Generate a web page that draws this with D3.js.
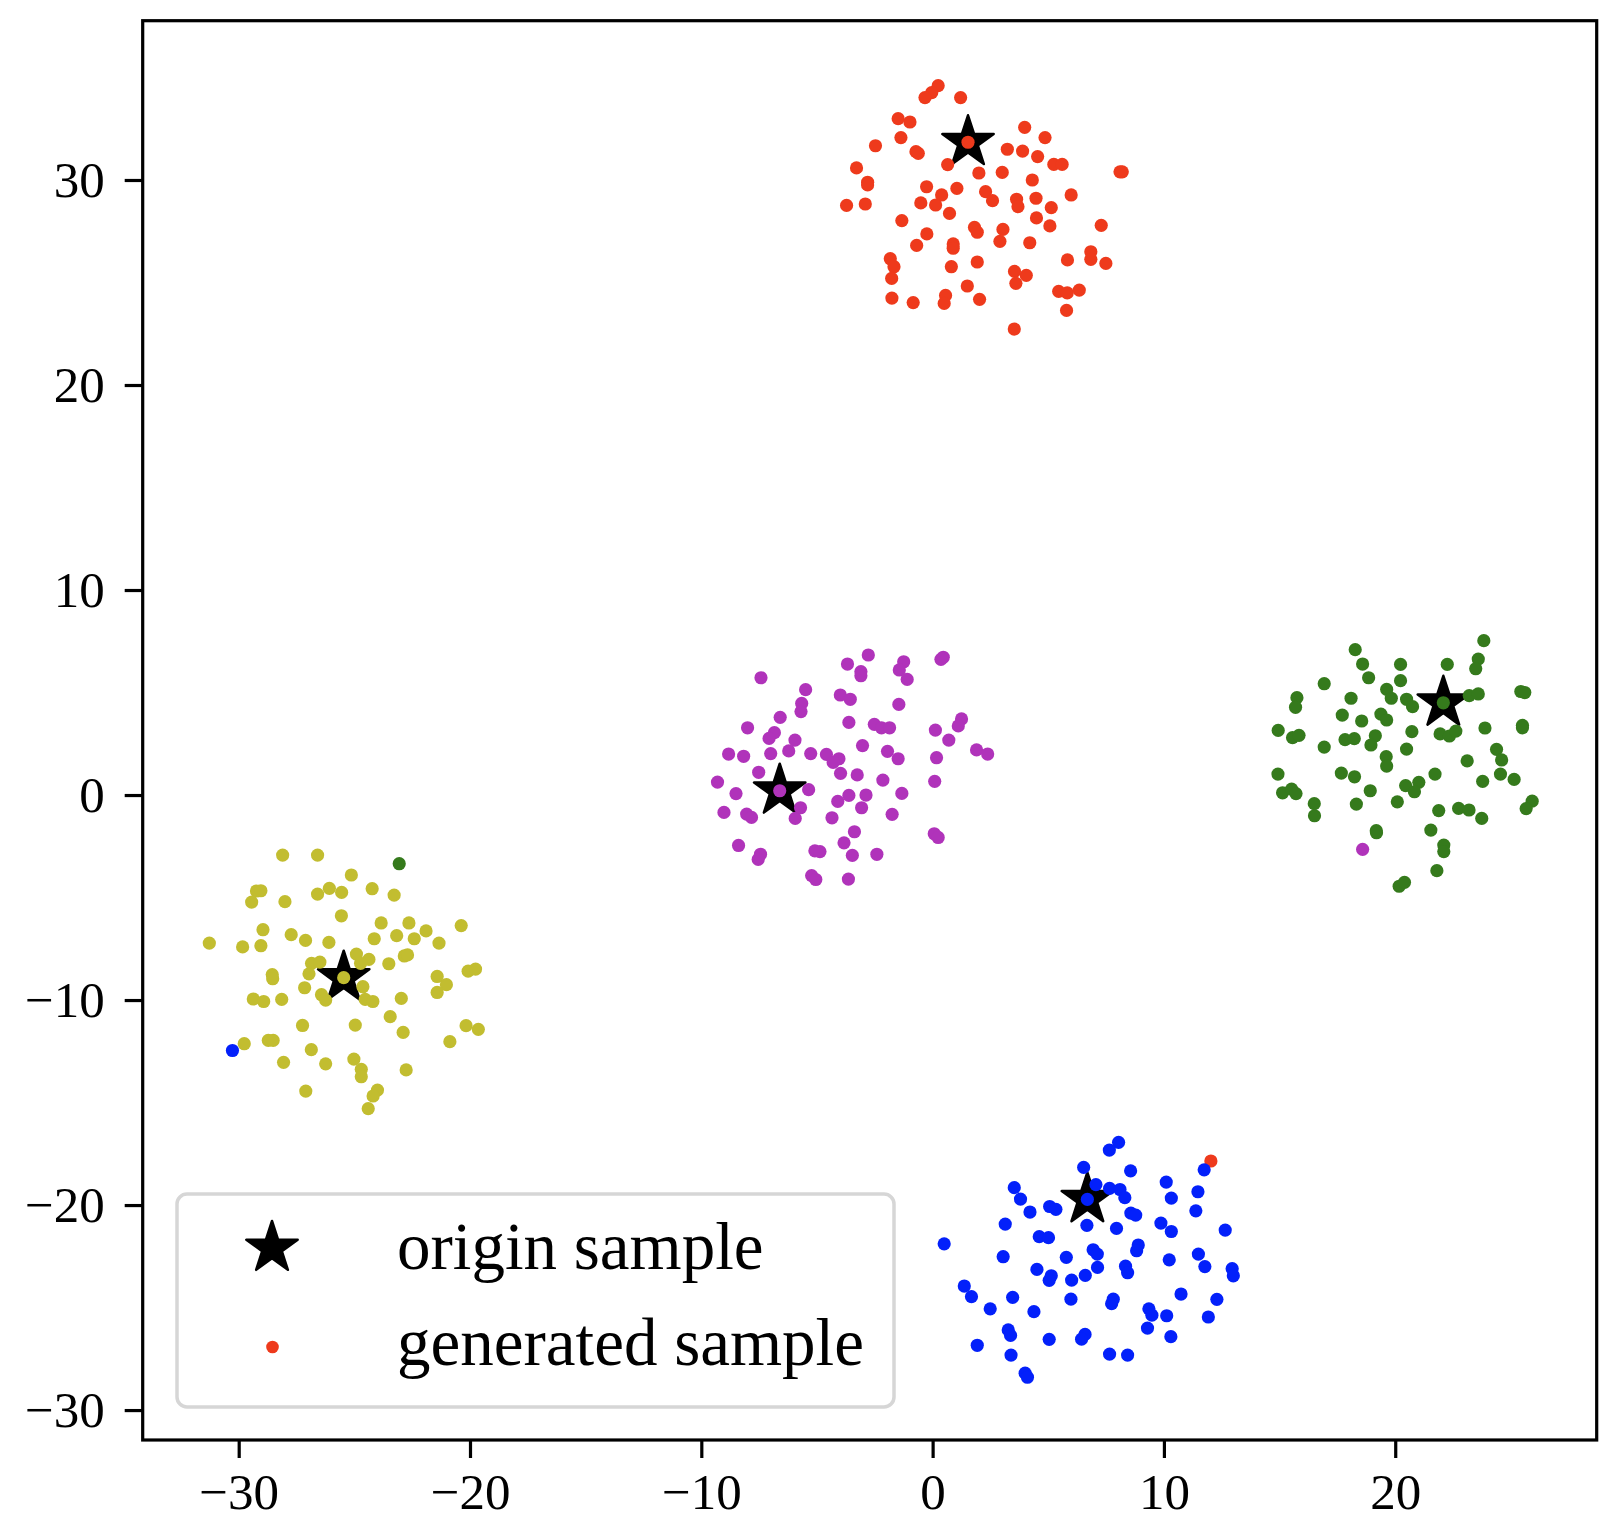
<!DOCTYPE html>
<html>
<head>
<meta charset="utf-8">
<script src="https://cdn.jsdelivr.net/npm/d3@7"></script>
<style>
  body { margin: 0; background: #fff; }
  text { font-family: "Liberation Serif", "Times New Roman", serif; }
</style>
</head>
<body>
<script>

// tick values
var xTicks = [-30, -20, -10, 0, 10, 20];
var yTicks = [-30, -20, -10, 0, 10, 20, 30];

// origin samples (one per class)
var originPts = [[1.53, 31.84], [-6.61, 0.21], [22.08, 4.50], [-25.46, -8.91], [6.69, -19.72]];

// generated samples, one array per class
var redPts = [
  [0.24,34.60],[-0.04,34.26],[-0.33,34.02],[1.21,34.02],[-1.49,32.99],[-0.98,32.83],[3.98,32.57],[4.86,32.07],
  [-1.37,32.07],[-2.47,31.67],[1.53,31.84],[-0.72,31.38],[-0.62,31.30],[3.23,31.50],[3.89,31.41],[4.54,31.14],
  [-3.29,30.59],[0.65,30.75],[2.00,30.34],[3.01,30.37],[5.24,30.76],[5.60,30.76],[-2.81,29.89],[-2.81,29.76],
  [-0.26,29.67],[1.05,29.59],[4.31,30.00],[0.39,29.27],[2.29,29.43],[2.59,28.99],[5.99,29.27],[-3.72,28.76],
  [-2.91,28.83],[-0.51,28.88],[0.13,28.78],[0.73,28.37],[3.63,29.06],[3.69,28.70],[4.47,29.11],[5.13,28.65],
  [-1.33,28.02],[4.49,28.15],[5.07,27.76],[7.29,27.79],[1.81,27.69],[1.93,27.45],[3.04,27.59],[2.91,27.01],
  [-0.25,27.37],[-0.69,26.81],[0.89,26.88],[0.89,26.67],[4.20,26.94],[-1.83,26.16],[-1.67,25.77],[-1.77,25.20],
  [0.81,25.77],[1.93,26.00],[3.54,25.54],[4.05,25.35],[3.60,24.96],[5.83,26.10],[6.84,26.50],[6.84,26.13],
  [7.49,25.93],[1.50,24.83],[-1.76,24.24],[-0.84,24.02],[0.56,24.37],[0.50,23.98],[2.03,24.18],[5.45,24.57],
  [5.82,24.49],[6.34,24.63],[5.79,23.64],[3.53,22.73],[8.10,30.40],[8.20,30.40],[12.03,-17.85]
];
var purplePts = [
  [-2.78,6.83],[-3.68,6.39],[-3.10,6.02],[-3.10,5.82],[-1.25,6.50],[-1.44,6.10],[-1.10,5.64],[0.46,6.72],
  [0.36,6.62],[-7.42,5.72],[-5.49,5.14],[-5.66,4.47],[-5.69,4.07],[-3.99,4.88],[-3.56,4.67],[-1.46,4.42],
  [-6.59,3.79],[-8.00,3.28],[-6.84,3.04],[-7.07,2.76],[-5.95,2.68],[-3.62,3.54],[-2.52,3.45],[-2.21,3.28],
  [-1.86,3.28],[0.12,3.17],[1.25,3.71],[1.11,3.37],[0.70,2.68],[1.90,2.20],[2.38,2.00],[-8.82,2.00],
  [-8.17,1.89],[-7.00,2.02],[-6.22,2.15],[-5.27,2.02],[-4.59,1.98],[-4.05,1.77],[-4.30,1.59],[-3.03,2.41],
  [-1.95,2.13],[-1.49,1.77],[0.17,1.82],[-7.52,1.11],[-3.98,1.06],[-3.26,0.98],[-2.15,0.73],[0.09,0.67],
  [-9.30,0.63],[-6.61,0.21],[-5.36,0.26],[-8.50,0.07],[-4.10,-0.31],[-3.62,-0.02],[-2.88,0.00],[-1.33,0.08],
  [-5.71,-0.62],[-3.07,-0.62],[-9.02,-0.85],[-8.04,-0.93],[-7.83,-1.09],[-5.94,-1.14],[-4.35,-1.11],[-1.75,-0.94],
  [-3.38,-1.79],[-3.83,-2.33],[0.07,-1.89],[0.24,-2.07],[-8.39,-2.46],[-7.44,-2.89],[-7.54,-3.14],[-5.09,-2.72],
  [-4.87,-2.76],[-3.47,-2.94],[-2.41,-2.89],[-5.23,-3.93],[-5.05,-4.12],[-3.64,-4.10],[18.59,-2.65]
];
var greenPts = [
  [23.83,7.53],[18.27,7.09],[23.59,6.63],[23.48,6.16],[18.59,6.39],[20.23,6.37],[22.25,6.37],[18.85,5.72],
  [20.23,5.58],[16.93,5.43],[15.75,4.75],[15.69,4.28],[19.63,5.15],[19.83,4.72],[18.09,4.72],[20.49,4.67],
  [20.75,4.31],[22.08,4.50],[23.20,4.85],[23.59,4.93],[25.43,5.05],[25.60,5.00],[17.71,3.90],[18.55,3.61],
  [19.38,3.95],[19.63,3.66],[14.94,3.15],[15.56,2.80],[15.84,2.91],[17.83,2.70],[18.23,2.75],[19.14,2.89],
  [18.95,2.44],[20.72,3.09],[21.94,2.98],[22.34,2.88],[22.62,3.12],[23.88,3.27],[25.50,3.40],[25.50,3.28],
  [16.93,2.34],[20.49,2.24],[19.61,1.87],[19.63,1.41],[24.38,2.23],[24.60,1.71],[23.11,1.67],[14.93,1.02],
  [17.67,1.07],[18.24,0.89],[21.72,1.02],[24.55,1.02],[25.14,0.76],[21.02,0.62],[20.45,0.46],[20.83,0.16],
  [23.78,0.67],[15.13,0.11],[15.52,0.29],[15.71,0.07],[18.92,0.21],[16.50,-0.42],[16.51,-1.01],[18.32,-0.44],
  [20.09,-0.33],[21.88,-0.76],[22.74,-0.65],[23.19,-0.73],[23.74,-1.14],[25.92,-0.30],[25.66,-0.66],[19.18,-1.74],
  [19.19,-1.84],[21.54,-1.71],[22.10,-2.44],[22.10,-2.76],[21.80,-3.69],[20.17,-4.45],[20.40,-4.26],[-23.06,-3.35]
];
var yellowPts = [
  [-28.10,-2.93],[-26.59,-2.93],[-25.13,-3.90],[-29.23,-4.68],[-29.04,-4.67],[-29.44,-5.22],[-28.00,-5.20],[-26.59,-4.83],
  [-26.08,-4.55],[-25.55,-4.75],[-24.23,-4.57],[-23.28,-4.88],[-25.56,-5.89],[-28.95,-6.57],[-27.73,-6.81],[-23.84,-6.24],
  [-22.64,-6.24],[-20.38,-6.37],[-21.90,-6.63],[-31.27,-7.22],[-29.83,-7.41],[-29.04,-7.35],[-27.11,-7.09],[-26.10,-7.19],
  [-24.14,-7.01],[-23.17,-6.86],[-22.41,-7.01],[-21.34,-7.22],[-24.91,-7.76],[-24.37,-8.02],[-24.73,-8.21],[-26.85,-8.21],
  [-26.49,-8.15],[-26.96,-8.72],[-22.84,-7.85],[-22.70,-7.80],[-23.51,-8.23],[-25.46,-8.91],[-28.55,-8.76],[-28.53,-8.96],
  [-27.15,-9.40],[-26.42,-9.74],[-26.24,-10.00],[-24.63,-9.35],[-24.53,-9.97],[-24.20,-10.07],[-22.97,-9.92],[-21.42,-8.85],
  [-21.02,-9.25],[-21.42,-9.63],[-20.08,-8.59],[-19.76,-8.49],[-29.37,-9.95],[-28.92,-10.07],[-28.14,-9.97],[-23.45,-10.81],
  [-27.24,-11.24],[-24.96,-11.22],[-22.89,-11.58],[-20.17,-11.25],[-19.64,-11.43],[-20.87,-12.03],[-29.76,-12.13],[-28.72,-11.97],
  [-28.51,-11.97],[-26.86,-12.42],[-28.06,-13.04],[-26.24,-13.11],[-25.02,-12.88],[-24.70,-13.38],[-24.70,-13.74],[-22.76,-13.41],
  [-27.10,-14.44],[-24.00,-14.39],[-24.19,-14.68],[-24.40,-15.30]
];
var bluePts = [
  [8.04,-16.94],[7.64,-17.32],[6.53,-18.16],[8.56,-18.33],[11.74,-18.28],[6.69,-19.72],[7.06,-19.00],[7.65,-19.19],
  [8.10,-19.24],[8.31,-19.64],[10.10,-18.88],[10.32,-19.66],[11.47,-19.35],[11.38,-20.28],[3.53,-19.15],[3.80,-19.71],
  [4.21,-20.34],[5.06,-20.07],[5.33,-20.21],[8.57,-20.39],[8.78,-20.49],[6.67,-20.99],[7.95,-21.14],[9.87,-20.88],
  [10.32,-21.29],[12.65,-21.22],[3.14,-20.93],[0.50,-21.89],[4.61,-21.54],[5.01,-21.59],[8.89,-21.95],[8.82,-22.23],
  [6.94,-22.18],[7.12,-22.39],[5.78,-22.55],[3.05,-22.52],[10.23,-22.67],[11.49,-22.39],[11.77,-23.00],[4.51,-23.14],
  [7.13,-23.04],[8.34,-22.98],[8.43,-23.30],[5.13,-23.45],[5.04,-23.67],[6.01,-23.66],[6.60,-23.43],[1.37,-23.95],
  [1.68,-24.47],[3.46,-24.50],[2.49,-25.06],[4.38,-25.20],[5.98,-24.59],[7.81,-24.59],[7.74,-24.81],[10.74,-24.34],
  [12.29,-24.60],[9.35,-25.06],[9.48,-25.37],[10.12,-25.40],[9.29,-26.00],[11.92,-25.46],[3.27,-26.09],[3.37,-26.36],
  [5.04,-26.55],[6.59,-26.31],[6.44,-26.54],[10.30,-26.42],[1.93,-26.84],[3.39,-27.32],[7.65,-27.27],[8.43,-27.32],
  [4.00,-28.20],[4.10,-28.40],[12.95,-23.10],[13.00,-23.45],[-30.27,-12.46]
];

var classColors = ["#ee3a1c", "#b033ba", "#357a1c", "#c2bd30", "#0320fa"];
var legendLabels = ["origin sample", "generated sample"];

var W = 1604, H = 1520;
var margin = { left: 142.7, top: 20.7, right: 7.3, bottom: 80 };
var plotW = W - margin.left - margin.right, plotH = 1440 - margin.top;

var svg = d3.select("body").append("svg").attr("width", W).attr("height", H);
svg.append("rect").attr("width", W).attr("height", H).attr("fill", "#fff");

var x = d3.scaleLinear().domain([-34.15, 28.71]).range([0, plotW]);
var y = d3.scaleLinear().domain([-31.46, 37.77]).range([plotH, 0]);

var g = svg.append("g").attr("transform", "translate(" + margin.left + "," + margin.top + ")");

// star path like matplotlib's '*' marker
function starPath(R) {
    var r = R * 0.381966, pts = [];
    for (var i = 0; i < 10; i++) {
        var a = -Math.PI / 2 + i * Math.PI / 5;
        var rr = (i % 2 === 0) ? R : r;
        pts.push([rr * Math.cos(a), rr * Math.sin(a)]);
    }
    return "M" + pts.map(function (p) { return p[0].toFixed(2) + "," + p[1].toFixed(2); }).join("L") + "Z";
}

// stars first, generated points on top
g.selectAll("path.star")
    .data(originPts)
    .enter().append("path")
    .attr("class", "star")
    .attr("d", starPath(27))
    .attr("transform", function (d) { return "translate(" + x(d[0]) + "," + y(d[1]) + ")"; })
    .attr("fill", "#000")
    .attr("stroke", "#000")
    .attr("stroke-width", 2.5)
    .attr("stroke-linejoin", "round");

var groups = [redPts, purplePts, greenPts, yellowPts, bluePts];
groups.forEach(function (pts, i) {
    g.selectAll("circle.c" + i)
        .data(pts)
        .enter().append("circle")
        .attr("class", "c" + i)
        .attr("cx", function (d) { return x(d[0]); })
        .attr("cy", function (d) { return y(d[1]); })
        .attr("r", 6.6)
        .attr("fill", classColors[i]);
});

// axes
var fmt = d3.format("d");
var xAxis = g.append("g")
    .attr("transform", "translate(0," + plotH + ")")
    .call(d3.axisBottom(x).tickValues(xTicks).tickFormat(fmt).tickSize(18).tickPadding(15));
var yAxis = g.append("g")
    .call(d3.axisLeft(y).tickValues(yTicks).tickFormat(fmt).tickSize(18).tickPadding(20));

[xAxis, yAxis].forEach(function (ax) {
    ax.select(".domain").remove();
    ax.selectAll(".tick line").attr("stroke", "#000").attr("stroke-width", 3.2);
    ax.selectAll(".tick text")
        .attr("fill", "#000")
        .style("font-size", "51px")
        .style("font-family", "'Liberation Serif', 'Times New Roman', serif");
});

g.append("rect")
    .attr("width", plotW).attr("height", plotH)
    .attr("fill", "none")
    .attr("stroke", "#000")
    .attr("stroke-width", 3.2);

// legend
var leg = svg.append("g");
leg.append("rect")
    .attr("x", 177).attr("y", 1194)
    .attr("width", 717).attr("height", 213)
    .attr("rx", 10).attr("ry", 10)
    .attr("fill", "#fff")
    .attr("fill-opacity", 0.8)
    .attr("stroke", "#d6d6d6")
    .attr("stroke-width", 3.5);

leg.append("path")
    .attr("d", starPath(27))
    .attr("transform", "translate(272,1248)")
    .attr("fill", "#000")
    .attr("stroke", "#000")
    .attr("stroke-width", 2.5)
    .attr("stroke-linejoin", "round");

leg.append("circle")
    .attr("cx", 272.5).attr("cy", 1347)
    .attr("r", 6.3)
    .attr("fill", classColors[0]);

leg.selectAll("text.lbl")
    .data(legendLabels)
    .enter().append("text")
    .attr("class", "lbl")
    .attr("x", 397)
    .attr("y", function (d, i) { return 1269 + i * 96; })
    .style("font-size", "67px")
    .attr("fill", "#000")
    .text(function (d) { return d; });

</script>
</body>
</html>
